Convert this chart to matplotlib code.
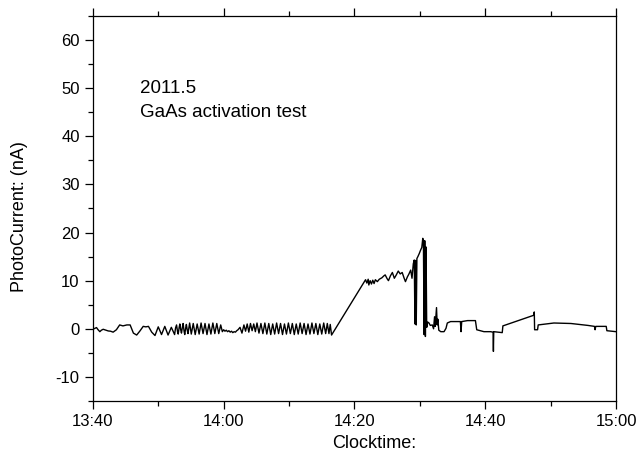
import matplotlib
matplotlib.use("Agg")
import matplotlib.pyplot as plt
from matplotlib.ticker import MultipleLocator

plt.rcParams['font.family'] = ['Liberation Sans', 'DejaVu Sans']
plt.rcParams['axes.unicode_minus'] = False

# time in minutes after 13:40, photocurrent in nA
start_t = [0, 0.3, 0.56, 0.8, 1.07, 1.3, 1.58, 2.0, 2.35, 2.7, 3.1, 3.6, 4.1, 4.6, 5.2,
           5.7, 6.2, 6.7, 7.2, 7.7, 8.1, 8.5, 9.0]
start_v = [-0.1, 0.1, 0.25, -0.2, -0.6, -0.3, -0.1, -0.3, -0.45, -0.5, -0.7, -0.2, 0.8, 0.6,
           0.8, 0.8, -0.9, -1.3, -0.45, 0.5, 0.4, 0.5, -0.7]

osc1_t = [9.5, 10.0, 10.5, 11.0, 11.5, 12.0, 12.5, 12.65, 12.8, 12.95, 13.05, 13.2, 13.3,
          13.45, 13.55, 13.7, 13.8, 13.95, 14.05, 14.2, 14.3, 14.45, 14.55, 14.8, 15.05,
          15.35, 15.65, 15.95, 16.25, 16.55, 16.85, 17.15, 17.45, 17.75, 18.05, 18.35,
          18.65, 18.95, 19.25, 19.55, 19.8]
osc1_v = [-1.4, 0.4, -1.2, 0.5, -1.3, 0.3, -1.2, 0.2, 0.8, -0.6, -1.1, 0.3, 1.0, -0.3,
          -0.9, 0.4, 1.1, -0.5, -1.2, 0.2, 0.9, -0.4, -1.0, 1.2, -1.1, 1.1, -1.2, 1.0,
          -1.1, 1.2, -1.0, 1.1, -1.2, 1.0, -1.1, 1.2, -1.0, 1.1, -1.0, 0.8, -0.6]

calm_t = [20.0, 20.2, 20.4, 20.6, 20.8, 21.0, 21.2, 21.4, 21.6, 21.8, 22.0, 22.2, 22.5]
calm_v = [-0.2, -0.5, -0.3, -0.6, -0.4, -0.7, -0.5, -0.8, -0.6, -0.7, -0.4, -0.2, 0.3]

osc2_t = [22.8, 23.1, 23.35, 23.6, 23.85, 24.1, 24.35, 24.6, 24.85, 25.1, 25.4, 25.7,
          26.0, 26.3, 26.6, 26.9, 27.2, 27.5, 27.8, 28.1, 28.4, 28.7, 29.0, 29.3, 29.6,
          29.9, 30.2, 30.5, 30.8, 31.1, 31.4, 31.7, 32.0, 32.3, 32.6, 32.9, 33.2, 33.5,
          33.8, 34.1, 34.4, 34.7, 35.0, 35.3, 35.6, 35.85, 36.1, 36.3, 36.5]
osc2_v = [-0.9, 0.8, -0.5, 1.0, -0.7, 1.1, -0.4, 1.0, -0.6, 1.2, -0.9, 1.1, -1.0, 1.2,
          -1.1, 1.1, -1.2, 1.0, -1.1, 1.2, -1.0, 1.1, -1.2, 1.0, -1.1, 1.2, -1.0, 1.1,
          -1.2, 1.0, -1.1, 1.2, -1.0, 1.1, -1.2, 1.0, -1.1, 1.2, -1.0, 1.1, -1.2, 1.0,
          -1.1, 1.2, -1.0, 1.1, -1.0, 0.9, -1.3]

high_t = [41.7, 41.9, 42.1, 42.2, 42.4, 42.6, 42.8, 43.0, 43.2, 43.5, 43.8, 44.2, 44.5,
          44.7, 45.0, 45.2, 45.5, 45.8, 46.1, 46.4, 46.7, 47.0, 47.3, 47.6, 47.8, 48.1,
          48.3, 48.6, 48.8, 49.0, 49.15]
high_v = [10.2, 9.5, 10.3, 9.1, 10.0, 9.3, 10.1, 9.4, 10.2, 9.8, 10.3, 10.6, 11.0, 11.2,
          10.4, 10.0, 11.0, 11.7, 10.5, 11.2, 12.0, 11.4, 11.7, 10.5, 9.8, 10.8, 11.3,
          12.2, 10.5, 13.5, 14.3]

spike_t = [49.25, 49.35, 49.45, 49.55, 49.7, 49.9, 50.1, 50.3, 50.45, 50.55, 50.65, 50.75,
           50.85, 50.95, 51.05]
spike_v = [1.0, 14.2, 0.8, 14.6, 15.0, 15.6, 16.3, 16.9, 18.8, 17.8, -1.2, 18.3, -1.6,
           17.0, 0.3]

tail_t = [51.2, 51.4, 51.6, 51.9, 52.1, 52.25, 52.35, 52.55, 52.65, 52.75, 52.9, 53.2,
          53.7, 54.0, 54.2, 54.7, 56.2, 56.3, 56.4, 57.3, 58.5, 58.7, 59.8, 60.8, 61.2,
          61.25, 61.3, 62.6, 62.7, 64.4, 65.9, 67.4, 67.5, 67.55, 68.0, 68.1, 70.5, 73.1,
          75.7, 76.7, 76.8, 76.9, 78.5, 78.6, 80.0]
tail_v = [1.4, 1.2, 0.7, 0.8, 0.0, 2.5, 0.5, 4.4, 0.8, 2.0, -0.3, -0.6, -0.6, 0.1, 1.2,
          1.5, 1.5, -0.6, 1.5, 1.7, 1.7, -0.2, -0.6, -0.6, -0.7, -4.7, -0.6, -0.8, 0.6,
          1.4, 2.1, 2.8, 3.5, -0.2, -0.2, 0.8, 1.2, 1.1, 0.7, 0.5, -0.2, 0.5, 0.5, -0.4,
          -0.6]

x_ticks = [0, 20, 40, 60, 80]
x_labels = ["13:40", "14:00", "14:20", "14:40", "15:00"]
y_ticks = [-10, 0, 10, 20, 30, 40, 50, 60]

t = start_t + osc1_t + calm_t + osc2_t + high_t + spike_t + tail_t
v = start_v + osc1_v + calm_v + osc2_v + high_v + spike_v + tail_v

fig = plt.figure(figsize=(6.36, 4.63), dpi=100)
ax = fig.add_axes([0.146, 0.134, 0.8226, 0.8314])
ax.plot(t, v, color='black', lw=1.0)

ax.set_xlim(0, 80)
ax.set_ylim(-15, 65)
ax.set_xticks(x_ticks)
ax.set_xticklabels(x_labels)
ax.set_yticks(y_ticks)
ax.xaxis.set_minor_locator(MultipleLocator(10))
ax.yaxis.set_minor_locator(MultipleLocator(5))
ax.tick_params(which='both', direction='out', top=True, right=False,
               labelsize=12, width=0.9)
ax.tick_params(which='major', length=6)
ax.tick_params(which='minor', length=3.5)
for s in ax.spines.values():
    s.set_linewidth(0.9)

ax.set_xlabel("Clocktime:", fontsize=13)
ax.set_ylabel("PhotoCurrent: (nA)", fontsize=13)
ax.xaxis.set_label_coords(0.537, -0.088)
ax.yaxis.set_label_coords(-0.124, 0.48)

ax.text(7.2, 50, "2011.5", fontsize=13.5, va='center', ha='left')
ax.text(7.2, 45, "GaAs activation test", fontsize=13.5, va='center', ha='left')

fig.savefig("out.png", dpi=100)
